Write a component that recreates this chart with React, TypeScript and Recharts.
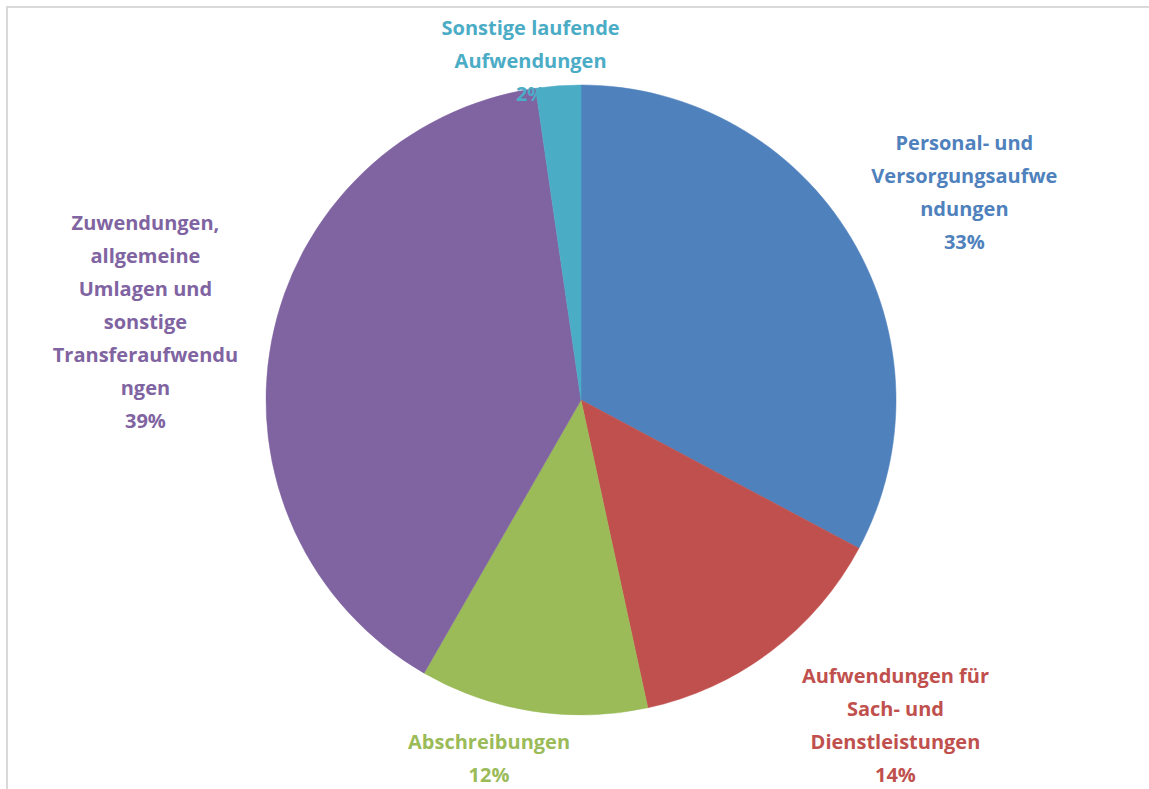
import React from "react";
import { PieChart, Pie, Cell } from "recharts";

const categories = [
  "Personal- und Versorgungsaufwendungen",
  "Aufwendungen für Sach- und Dienstleistungen",
  "Abschreibungen",
  "Zuwendungen, allgemeine Umlagen und sonstige Transferaufwendungen",
  "Sonstige laufende Aufwendungen",
];

const shares = [32.8, 13.8, 11.7, 39.4, 2.3];

const labelLines = [
  ["Personal- und", "Versorgungsaufwe", "ndungen"],
  ["Aufwendungen für", "Sach- und", "Dienstleistungen"],
  ["Abschreibungen"],
  ["Zuwendungen,", "allgemeine", "Umlagen und", "sonstige", "Transferaufwendu", "ngen"],
  ["Sonstige laufende", "Aufwendungen"],
];

const colors = ["#4F81BD", "#C0504D", "#9BBB59", "#8064A2", "#4BACC6"];

// label placement (style): radial factor of outer radius, angular shift (deg, clockwise)
const labelRadius = [1.385, 1.435, 1.172, 1.405, 1.09];
const labelShift = [2.45, -7, 5.6, -0.6, -4.3];

const data = categories.map((name, i) => ({ name, value: shares[i] }));

const LINE_H = 33;
const RAD = Math.PI / 180;

const renderLabel = (props: any) => {
  const { cx, cy, midAngle, outerRadius, index, percent } = props;
  const ang = (midAngle - labelShift[index]) * RAD;
  const r = outerRadius * labelRadius[index];
  const x = cx + r * Math.cos(ang);
  const y = cy - r * Math.sin(ang);
  const lines = [...labelLines[index], `${Math.round(percent * 100)}%`];
  const n = lines.length;
  return (
    <text
      key={`lbl-${index}`}
      x={x}
      y={y}
      textAnchor="middle"
      fill={colors[index]}
      style={{ fontFamily: "'Open Sans', 'Noto Sans', sans-serif", fontWeight: 700, fontSize: 20 }}
    >
      {lines.map((t, i) => (
        <tspan key={i} x={x} y={y + (i - (n - 1) / 2) * LINE_H} dominantBaseline="central">
          {t}
        </tspan>
      ))}
    </text>
  );
};

export default function App() {
  return (
    <div style={{ position: "absolute", left: 0, top: 0, width: 1149, height: 789, background: "#fff", overflow: "hidden" }}>
      <style>{`.recharts-pie-sectors { filter: drop-shadow(0px 3px 6px rgba(0,0,0,0.35)); }`}</style>
      <div
        style={{
          position: "absolute",
          left: 6,
          top: 6,
          width: 1149,
          height: 800,
          borderTop: "2px solid #d9d9d9",
          borderLeft: "2px solid #d9d9d9",
        }}
      />
      <div style={{ position: "absolute", left: 0, top: 0 }}>
        <PieChart width={1149} height={789} margin={{ top: 0, right: 0, bottom: 0, left: 0 }}>
          <Pie
            data={data}
            dataKey="value"
            nameKey="name"
            cx={581}
            cy={400}
            outerRadius={315}
            startAngle={90}
            endAngle={-270}
            label={renderLabel}
            labelLine={false}
            isAnimationActive={false}
          >
            {data.map((d, i) => (
              <Cell key={d.name} fill={colors[i]} stroke={colors[i]} strokeWidth={0.5} />
            ))}
          </Pie>
        </PieChart>
      </div>
    </div>
  );
}
